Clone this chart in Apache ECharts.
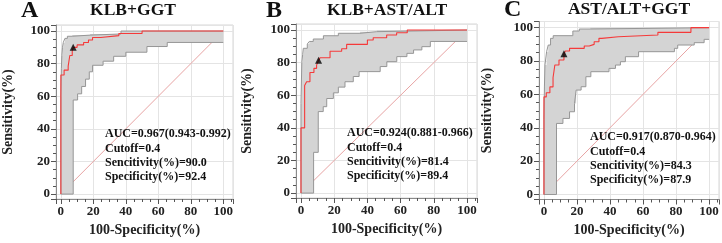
<!DOCTYPE html>
<html><head><meta charset="utf-8">
<script src="https://cdn.jsdelivr.net/npm/echarts@6/dist/echarts.min.js"></script>
<style>html,body{margin:0;padding:0;background:#fff}#c{width:722px;height:243px}</style>
</head><body><div id="c"></div>
<script>
// ---------- data ----------
const panelLetters = ['A', 'B', 'C'];
const panelTitles = ['KLB+GGT', 'KLB+AST/ALT', 'AST/ALT+GGT'];
const tickLabels = [0, 20, 40, 60, 80, 100];
const xAxisName = '100-Specificity(%)';
const yAxisName = 'Sensitivity(%)';

// ROC curves (step vertices: x = 100-Specificity, y = Sensitivity)
const rocA_x = [0, 0, 2, 4.5, 5.5, 7, 7.6, 10, 14, 17, 19.5, 24.5, 35.7, 50, 100];
const rocA_y = [0, 73, 76, 78.5, 85, 88, 90, 91.5, 93, 94.5, 96, 97.2, 98.5, 100, 100];
const upA_x = [0, 0, 0.3, 0.6, 1, 1.5, 2.5, 4, 7, 18, 37, 100];
const upA_y = [0, 60, 77, 85, 90, 93, 95.5, 96.8, 97.5, 98.2, 100, 100];
const loA_x = [0, 7.6, 10.3, 12.8, 15.2, 17.5, 19.5, 26, 32.5, 40, 53, 65.5, 100];
const loA_y = [0, 57.7, 61.5, 66, 70.5, 75, 79, 81.5, 84.5, 87, 90.5, 93, 93];

const rocB_x = [0, 0, 2.2, 3.4, 5.4, 7.8, 9.4, 10.6, 11.5, 17.5, 24.5, 27.5, 40, 43.5, 51.6, 57.6, 64, 100];
const rocB_y = [0, 40, 66, 68.3, 74, 76.5, 78.5, 81.4, 83, 87, 88.5, 91.2, 93.9, 95.3, 97, 98.3, 100, 100];
const upB_x = [0, 0, 0.5, 1, 1.4, 3.8, 5, 7.4, 13.5, 22.5, 35.5, 45.6, 100];
const upB_y = [0, 55, 80, 85, 88.8, 91.4, 93, 94.5, 96.5, 98, 99, 100, 100];
const loB_x = [0, 7.6, 10.4, 13.4, 15.5, 19.5, 22.5, 26.5, 31.5, 35, 47.7, 51.7, 57.7, 63.8, 67.8, 72.8, 77.9, 100];
const loB_y = [0, 25, 50, 53, 58, 61.5, 65, 68.3, 71.5, 74.5, 77.6, 80.6, 83.7, 85.7, 87.8, 89.8, 93, 93];

const rocC_x = [0, 0, 1.4, 3.6, 5.5, 6.6, 9.1, 12.1, 13, 15.5, 24.4, 27.4, 30.4, 33.3, 35, 45, 69, 89, 100];
const rocC_y = [0, 58.5, 61, 64.5, 70, 77.6, 80.6, 84.3, 86, 87.6, 89, 90, 91.6, 93.6, 94.6, 95.6, 97.2, 100, 100];
const upC_x = [0, 0, 0.3, 0.6, 1.6, 2.6, 4, 5.6, 17.5, 21.4, 28, 100];
const upC_y = [0, 45, 65, 77.6, 85.6, 89.6, 93.6, 95.2, 98, 99.2, 100, 100];
const loC_x = [0, 7.6, 11.5, 15.5, 18.5, 19.5, 22.5, 25.4, 28.4, 39.4, 43.3, 46.3, 49.3, 57.3, 79, 81, 91, 97, 100];
const loC_y = [0, 42.6, 45.6, 49.6, 54.6, 62.6, 64.6, 70.6, 73.6, 75.6, 77.6, 79.6, 82.6, 85.6, 87.6, 89.6, 91, 93, 93];

const diag_x = [0, 100];
const diag_y = [0, 100];

const cutoffX = [7.6, 10.6, 12.1];
const cutoffY = [90.0, 81.4, 84.3];

const aucText = ['AUC=0.967(0.943-0.992)', 'AUC=0.924(0.881-0.966)', 'AUC=0.917(0.870-0.964)'];
const cutoffText = ['Cutoff=0.4', 'Cutoff=0.4', 'Cutoff=0.4'];
const sensText = ['Sencitivity(%)=90.0', 'Sencitivity(%)=81.4', 'Sencitivity(%)=84.3'];
const specText = ['Specificity(%)=92.4', 'Specificity(%)=89.4', 'Specificity(%)=87.9'];

// ---------- build ----------
const rocs = [[rocA_x, rocA_y], [rocB_x, rocB_y], [rocC_x, rocC_y]];
const ups = [[upA_x, upA_y], [upB_x, upB_y], [upC_x, upC_y]];
const los = [[loA_x, loA_y], [loB_x, loB_y], [loC_x, loC_y]];

const zip = (xs, ys) => xs.map((x, i) => [x, ys[i]]);
function stepExpand(pts) {
  const out = [pts[0]];
  for (let i = 1; i < pts.length; i++) {
    out.push([pts[i][0], pts[i - 1][1]]);
    out.push(pts[i]);
  }
  return out;
}

const SERIF = "'Liberation Serif','Times New Roman',serif";
const grids = [
  { left: 55, top: 25, width: 178, height: 174 },
  { left: 296, top: 24, width: 181, height: 174 },
  { left: 539, top: 21.5, width: 183, height: 178 }
];
const yNameGap = [41, 42, 45];
const textPos = [[105, 127], [347, 126], [590, 130]];
const letterPos = [[21, 11], [266, 11], [504, 10]];
const titleX = [133, 387, 629];
const titleY = [10, 10, 9];

const labelFmt = v => (tickLabels.indexOf(v) >= 0 ? String(v) : '');

function axisCommon(i) {
  return {
    type: 'value', gridIndex: i, min: -3,
    splitNumber: 5, minInterval: 20, maxInterval: 20,
    axisLine: { show: true, onZero: false, lineStyle: { color: '#8a8a8a', width: 1 } },
    axisTick: { show: true, inside: false, length: 5, lineStyle: { color: '#555' } },
    minorTick: { show: true, splitNumber: 4, length: 3, lineStyle: { color: '#555' } },
    splitLine: { show: true, lineStyle: { color: '#e4e4e4', width: 1 } },
    axisLabel: { margin: 6, fontFamily: SERIF, fontWeight: 'bold', fontSize: 13, color: '#222', formatter: labelFmt },
    nameLocation: 'middle',
    nameTextStyle: { fontFamily: SERIF, fontWeight: 'bold', fontSize: 14, color: '#222' }
  };
}

const xAxes = [], yAxes = [], series = [], graphics = [];
for (let i = 0; i < 3; i++) {
  xAxes.push(Object.assign(axisCommon(i), { max: 106, name: xAxisName, nameGap: 24 }));
  yAxes.push(Object.assign(axisCommon(i), { max: 103.7, name: yAxisName, nameGap: yNameGap[i] }));

  const upPts = stepExpand(zip(ups[i][0], ups[i][1]));
  const loPts = stepExpand(zip(los[i][0], los[i][1]));

  series.push({
    type: 'line', xAxisIndex: i, yAxisIndex: i, z: 2, silent: true,
    data: zip(diag_x, diag_y), symbol: 'none',
    lineStyle: { color: '#e8a4a4', width: 1 }
  });
  series.push({
    type: 'custom', xAxisIndex: i, yAxisIndex: i, z: 3, silent: true,
    data: [[0, 0]],
    renderItem: (params, api) => {
      const poly = upPts.map(p => api.coord(p)).concat(loPts.slice().reverse().map(p => api.coord(p)));
      return { type: 'polygon', shape: { points: poly }, style: { fill: '#d4d4d4' } };
    }
  });
  series.push({
    type: 'line', xAxisIndex: i, yAxisIndex: i, z: 4, silent: true,
    data: zip(ups[i][0], ups[i][1]), step: 'end', symbol: 'none',
    lineStyle: { color: '#969696', width: 1 }
  });
  series.push({
    type: 'line', xAxisIndex: i, yAxisIndex: i, z: 4, silent: true,
    data: zip(los[i][0], los[i][1]), step: 'end', symbol: 'none',
    lineStyle: { color: '#969696', width: 1 }
  });
  series.push({
    type: 'line', xAxisIndex: i, yAxisIndex: i, z: 5, silent: true,
    data: zip(rocs[i][0], rocs[i][1]), step: 'end', symbol: 'none',
    lineStyle: { color: '#f53a3a', width: 1.1 }
  });
  series.push({
    type: 'scatter', xAxisIndex: i, yAxisIndex: i, z: 6, silent: true,
    data: [[cutoffX[i], cutoffY[i]]], symbol: 'triangle', symbolSize: 7,
    itemStyle: { color: '#000' }
  });

  graphics.push({
    type: 'text', x: letterPos[i][0], y: letterPos[i][1],
    style: { text: panelLetters[i], font: "bold 24px " + SERIF, fill: '#111', textVerticalAlign: 'middle' }
  });
  graphics.push({
    type: 'text', x: titleX[i], y: titleY[i],
    style: { text: panelTitles[i], font: "bold 17.5px " + SERIF, fill: '#111', textAlign: 'center', textVerticalAlign: 'middle' }
  });
  graphics.push({
    type: 'text', x: textPos[i][0], y: textPos[i][1], z: 10,
    style: {
      text: [aucText[i], cutoffText[i], sensText[i], specText[i]].join('\n'),
      font: "bold 12px " + SERIF, fill: '#111', lineHeight: 14.3, textVerticalAlign: 'top'
    }
  });
}

const chart = echarts.init(document.getElementById('c'), null, { renderer: 'canvas' });
chart.setOption({
  animation: false,
  backgroundColor: '#fff',
  grid: grids.map(g => Object.assign({ show: true, borderColor: '#d6d6d6', borderWidth: 1, containLabel: false }, g)),
  xAxis: xAxes,
  yAxis: yAxes,
  series: series,
  graphic: graphics
});
</script>
</body></html>
